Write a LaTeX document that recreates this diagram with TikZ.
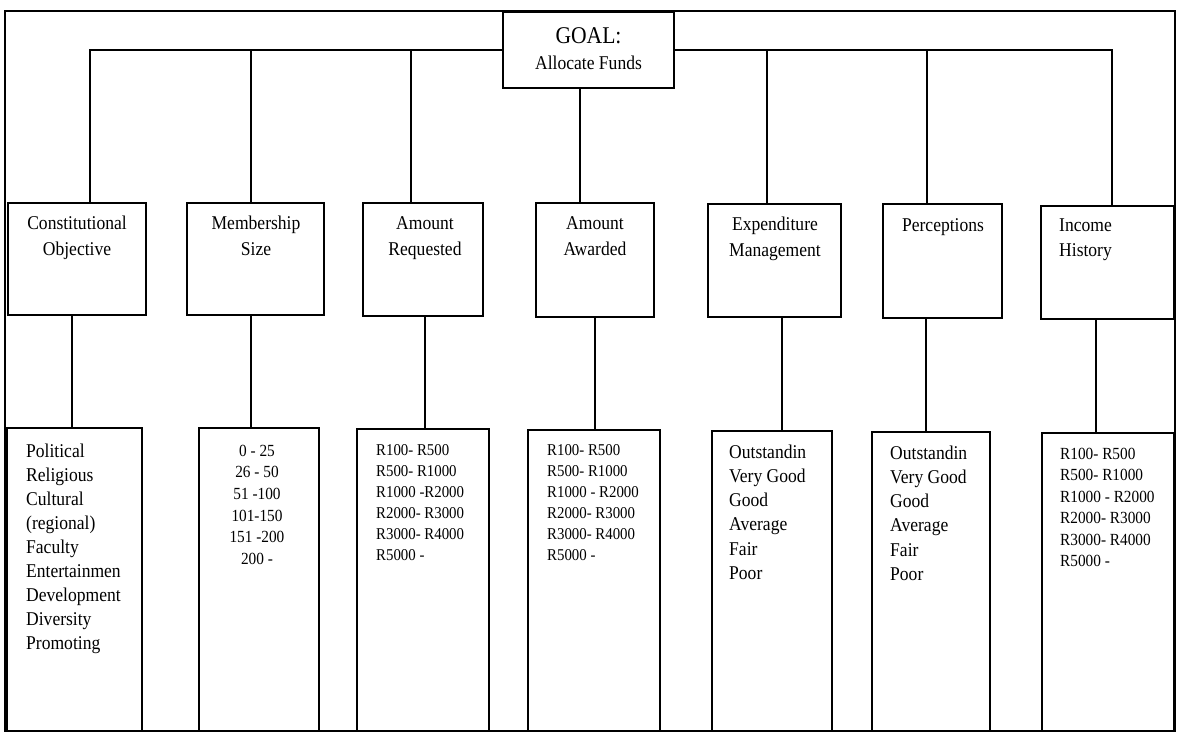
\documentclass[tikz,border=0pt]{standalone}
\usepackage{fontspec}
\setmainfont{Liberation Serif}[FakeStretch=0.9]
\newcommand{\txtblock}[4]{{\fontsize{#2}{#3}\selectfont\begin{tabular}[t]{@{}#1@{}}#4\end{tabular}}}
\begin{document}
\begin{tikzpicture}[x=1pt,y=-1pt,
  box/.style={draw, line width=1.3pt, inner sep=0pt},
  conn/.style={line width=1.3pt},
  lbl/.style={inner sep=0pt, anchor=base},
  lblw/.style={inner sep=0pt, anchor=base west}]
\useasboundingbox[fill=white] (0,0) rectangle (1177,733);

% outer frame
\node[box, minimum width=1170pt, minimum height=720pt] (frame) at (590,371) {};

% goal
\node[box, fill=white, minimum width=171pt, minimum height=76pt] (goal) at (588.5,50) {};
\node[lbl] (goalt) at (588.5,44) {\fontsize{24}{28}\selectfont GOAL:};
\node[lbl] (goals) at (588.5,70) {\fontsize{19.5}{23}\selectfont Allocate Funds};

% level 1 boxes
\node[box, minimum width=138pt, minimum height=112pt] (C1) at (77,259) {};
\node[box, minimum width=137pt, minimum height=112pt] (C2) at (255.5,259) {};
\node[box, minimum width=120pt, minimum height=113pt] (C3) at (423,259.5) {};
\node[box, minimum width=118pt, minimum height=114pt] (C4) at (595,260) {};
\node[box, minimum width=133pt, minimum height=113pt] (C5) at (774.5,260.5) {};
\node[box, minimum width=119pt, minimum height=114pt] (C6) at (942.5,261) {};
\node[box, minimum width=133pt, minimum height=113pt] (C7) at (1107.5,262.5) {};

\node[lbl] (L1) at (77,229) {\txtblock{c}{19.5}{26}{Constitutional\\Objective}};
\node[lbl] (L2) at (256,229) {\txtblock{c}{19.5}{26}{Membership\\Size}};
\node[lbl] (L3) at (425,229) {\txtblock{c}{19.5}{26}{Amount\\Requested}};
\node[lbl] (L4) at (595,229) {\txtblock{c}{19.5}{26}{Amount\\Awarded}};
\node[lbl] (L5) at (775,230) {\txtblock{c}{19.5}{26}{Expenditure\\Management}};
\node[lbl] (L6) at (943,231) {\txtblock{c}{19.5}{26}{Perceptions}};
\node[lblw] (L7) at (1059,231) {\txtblock{l}{19.5}{25}{Income\\History}};

% bottom boxes
\node[box, minimum width=135pt, minimum height=303pt] (B1) at (74.5,579.5) {};
\node[box, minimum width=120pt, minimum height=303pt] (B2) at (259,579.5) {};
\node[box, minimum width=132pt, minimum height=302pt] (B3) at (423,580) {};
\node[box, minimum width=132pt, minimum height=301pt] (B4) at (594,580.5) {};
\node[box, minimum width=120pt, minimum height=300pt] (B5) at (772,581) {};
\node[box, minimum width=118pt, minimum height=299pt] (B6) at (931,581.5) {};
\node[box, minimum width=132pt, minimum height=298pt] (B7) at (1108,582) {};

\node[lblw] (D1) at (26,457) {\txtblock{l}{19.5}{24.1}{Political\\Religious\\Cultural\\(regional)\\Faculty\\Entertainmen\\Development\\Diversity\\Promoting}};
\node[lbl] (D2) at (257,456) {\txtblock{c}{17}{21.7}{0 - 25\\26 - 50\\51 -100\\101-150\\151 -200\\200 -}};
\node[lblw] (D3) at (376,455) {\txtblock{l}{16.5}{21}{R100- R500\\R500- R1000\\R1000 -R2000\\R2000- R3000\\R3000- R4000\\R5000 -}};
\node[lblw] (D4) at (547,455) {\txtblock{l}{16.5}{21}{R100- R500\\R500- R1000\\R1000 - R2000\\R2000- R3000\\R3000- R4000\\R5000 -}};
\node[lblw] (D5) at (729,458) {\txtblock{l}{19.5}{24.3}{Outstandin\\Very Good\\Good\\Average\\Fair\\Poor}};
\node[lblw] (D6) at (890,459) {\txtblock{l}{19.5}{24.3}{Outstandin\\Very Good\\Good\\Average\\Fair\\Poor}};
\node[lblw] (D7) at (1060,459) {\txtblock{l}{17}{21.5}{R100- R500\\R500- R1000\\R1000 - R2000\\R2000- R3000\\R3000- R4000\\R5000 -}};

% stem positions
\coordinate (j1) at (90,0);
\coordinate (j2) at (251,0);
\coordinate (j3) at (411,0);
\coordinate (j4) at (580,0);
\coordinate (j5) at (767,0);
\coordinate (j6) at (927,0);
\coordinate (j7) at (1112,0);
\coordinate (s1) at (72,0);
\coordinate (s2) at (251,0);
\coordinate (s3) at (425,0);
\coordinate (s4) at (595,0);
\coordinate (s5) at (782,0);
\coordinate (s6) at (926,0);
\coordinate (s7) at (1096,0);

% connectors goal -> level 1
\draw[conn] (goal.west) -| (j1 |- C1.north);
\draw[conn] (j2 |- goal.west) -- (j2 |- C2.north);
\draw[conn] (j3 |- goal.west) -- (j3 |- C3.north);
\draw[conn] (j4 |- goal.south) -- (j4 |- C4.north);
\draw[conn] (goal.east) -| (j7 |- C7.north);
\draw[conn] (j5 |- goal.east) -- (j5 |- C5.north);
\draw[conn] (j6 |- goal.east) -- (j6 |- C6.north);

% connectors level 1 -> options
\draw[conn] (s1 |- C1.south) -- (s1 |- B1.north);
\draw[conn] (s2 |- C2.south) -- (s2 |- B2.north);
\draw[conn] (s3 |- C3.south) -- (s3 |- B3.north);
\draw[conn] (s4 |- C4.south) -- (s4 |- B4.north);
\draw[conn] (s5 |- C5.south) -- (s5 |- B5.north);
\draw[conn] (s6 |- C6.south) -- (s6 |- B6.north);
\draw[conn] (s7 |- C7.south) -- (s7 |- B7.north);
\end{tikzpicture}
\end{document}
